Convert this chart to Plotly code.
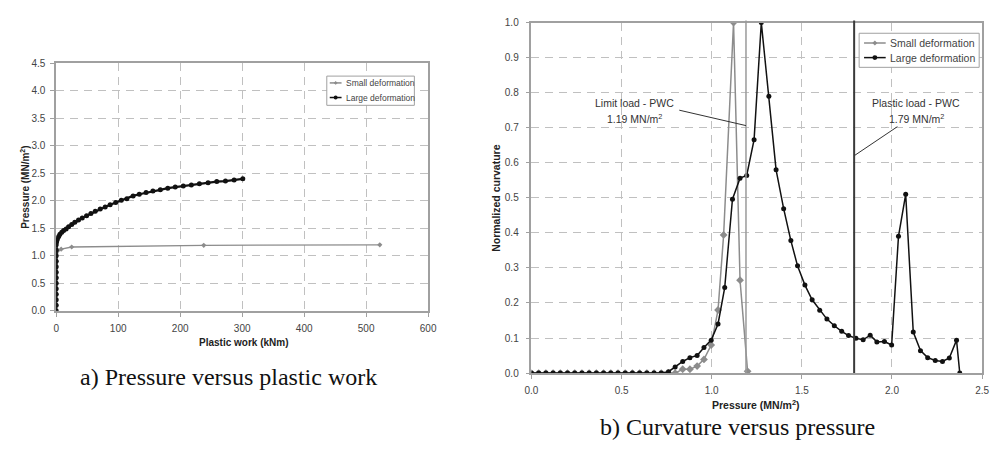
import plotly.graph_objects as go

# ---------------- data: a) pressure vs plastic work ----------------
work_large = [0, 0, 0, 0, 0, 0, 0, 0, 0, 0, 0, 0, 0, 0.5, 1, 2, 4, 6, 9, 12, 16, 20, 25, 30, 36, 42,
              49, 56, 63, 71, 79, 87, 96, 105, 114, 124, 134, 145, 156, 168, 180, 192, 205, 218,
              231, 245, 259, 273, 287, 301]
press_large = [0.0, 0.1, 0.2, 0.3, 0.4, 0.5, 0.6, 0.7, 0.8, 0.9, 1.0, 1.1, 1.2, 1.25, 1.28, 1.31,
               1.35, 1.39, 1.43, 1.46, 1.49, 1.53, 1.57, 1.61, 1.65, 1.69, 1.73, 1.77, 1.81, 1.85,
               1.89, 1.93, 1.97, 2.01, 2.04, 2.09, 2.12, 2.15, 2.18, 2.20, 2.23, 2.25, 2.27, 2.29,
               2.31, 2.33, 2.35, 2.36, 2.38, 2.40]
work_small = [0, 0, 0, 0, 0, 3, 8, 25, 238, 522]
press_small = [0.0, 0.3, 0.6, 0.9, 1.05, 1.10, 1.12, 1.16, 1.19, 1.20]

# ---------------- data: b) curvature vs pressure ----------------
p_large = [0.00, 0.04, 0.08, 0.12, 0.16, 0.20, 0.24, 0.28, 0.32, 0.36, 0.40, 0.44, 0.48, 0.52,
           0.56, 0.60, 0.64, 0.68, 0.72, 0.76, 0.797, 0.839, 0.879, 0.919, 0.957, 0.997, 1.035,
           1.072, 1.115, 1.157, 1.194, 1.235, 1.275, 1.317, 1.357, 1.399, 1.439, 1.476, 1.517,
           1.557, 1.599, 1.639, 1.680, 1.721, 1.759, 1.800, 1.840, 1.879, 1.916, 1.958, 1.998,
           2.036, 2.076, 2.118, 2.158, 2.198, 2.240, 2.280, 2.318, 2.358, 2.376]
c_large = [0, 0, 0, 0, 0, 0, 0, 0, 0, 0, 0, 0, 0, 0, 0, 0, 0, 0, 0, 0.004, 0.017, 0.033, 0.044,
           0.050, 0.073, 0.094, 0.140, 0.244, 0.496, 0.556, 0.564, 0.666, 1.000, 0.790, 0.580,
           0.469, 0.378, 0.306, 0.251, 0.209, 0.179, 0.154, 0.135, 0.119, 0.107, 0.099, 0.095,
           0.108, 0.089, 0.090, 0.080, 0.390, 0.510, 0.117, 0.064, 0.044, 0.036, 0.033, 0.043,
           0.094, 0.000]
p_small = [0.00, 0.04, 0.08, 0.12, 0.16, 0.20, 0.24, 0.28, 0.32, 0.36, 0.40, 0.44, 0.48, 0.52,
           0.56, 0.60, 0.64, 0.68, 0.72, 0.76, 0.797, 0.839, 0.879, 0.919, 0.957, 0.997, 1.035,
           1.066, 1.121, 1.157, 1.199]
c_small = [0, 0, 0, 0, 0, 0, 0, 0, 0, 0, 0, 0, 0, 0, 0, 0, 0, 0, 0, 0, 0.000, 0.011, 0.011,
           0.020, 0.039, 0.080, 0.180, 0.394, 1.000, 0.265, 0.005]

series_names = ["Small deformation", "Large deformation"]
limit_load = 1.19
plastic_load = 1.79

SMALL_COL = "#8c8c8c"
LARGE_COL = "#111111"

W, H = 999, 456
def px(x):
    return x / W
def py(y):
    return 1 - y / H

fig = go.Figure()

fig.add_trace(go.Scatter(x=work_small, y=press_small, mode="lines+markers", name=series_names[0],
                         line=dict(color=SMALL_COL, width=1.3),
                         marker=dict(symbol="diamond", size=4, color=SMALL_COL),
                         xaxis="x", yaxis="y", showlegend=False))
fig.add_trace(go.Scatter(x=work_large, y=press_large, mode="lines+markers", name=series_names[1],
                         line=dict(color=LARGE_COL, width=2.2),
                         marker=dict(symbol="circle", size=5, color=LARGE_COL),
                         xaxis="x", yaxis="y", showlegend=False))
fig.add_trace(go.Scatter(x=p_small, y=c_small, mode="lines+markers", name=series_names[0],
                         line=dict(color=SMALL_COL, width=1.5),
                         marker=dict(symbol="diamond", size=6, color=SMALL_COL),
                         xaxis="x2", yaxis="y2", showlegend=False))
fig.add_trace(go.Scatter(x=p_large, y=c_large, mode="lines+markers", name=series_names[1],
                         line=dict(color=LARGE_COL, width=1.5),
                         marker=dict(symbol="circle", size=5, color=LARGE_COL),
                         xaxis="x2", yaxis="y2", showlegend=False))

tickfont = dict(family="Liberation Sans, Arial", size=10, color="#444")
axcommon = dict(showline=True, linecolor="#a0a0a0", linewidth=1.5, mirror=True,
                showgrid=True, gridcolor="#c0c0c0", griddash="8px,6px", gridwidth=1,
                zeroline=False, ticks="outside", ticklen=4, tickcolor="#a0a0a0",
                tickfont=tickfont)

fig.update_layout(
    width=W, height=H,
    margin=dict(l=0, r=0, t=0, b=0),
    paper_bgcolor="white", plot_bgcolor="white",
    showlegend=False,
    xaxis=dict(domain=[px(50), px(428)], range=[0, 600], dtick=100, anchor="y",
               ticklabelstandoff=3, **axcommon),
    yaxis=dict(domain=[py(313), py(59)], range=[0, 4.5], dtick=0.5, tickformat=".1f",
               anchor="x", ticklabelstandoff=3, **axcommon),
    xaxis2=dict(domain=[px(533), px(991)], range=[0, 2.5], dtick=0.5, tickformat=".1f",
                anchor="y2", ticklabelstandoff=3, **axcommon),
    yaxis2=dict(domain=[py(377), py(17)], range=[0, 1.0], dtick=0.1, tickformat=".1f",
                anchor="x2", ticklabelstandoff=5, **axcommon),
)

# vertical load lines and leader lines
fig.add_shape(type="line", xref="x2", yref="paper", x0=limit_load, x1=limit_load,
              y0=py(377), y1=py(15), line=dict(color="#9a9a9a", width=1.5))
fig.add_shape(type="line", xref="x2", yref="paper", x0=plastic_load, x1=plastic_load,
              y0=py(377), y1=py(15), line=dict(color="#3a3a3a", width=2))
fig.add_shape(type="line", xref="x2", yref="y2", x0=0.82, y0=0.75, x1=limit_load, y1=0.706,
              line=dict(color="#333", width=1))
fig.add_shape(type="line", xref="x2", yref="y2", x0=2.03, y0=0.703, x1=plastic_load, y1=0.62,
              line=dict(color="#333", width=1))

# ---- manual legends (pixel-placed) ----
def legend_box(x0, y0, x1, y1, rows, stub, fsize, msize):
    fig.add_shape(type="rect", xref="paper", yref="paper", x0=px(x0), x1=px(x1),
                  y0=py(y1), y1=py(y0), line=dict(color="#a0a0a0", width=1),
                  fillcolor="white", layer="above")
    for (name, col, sym, yy) in rows:
        fig.add_shape(type="line", xref="paper", yref="paper", x0=px(stub[0]), x1=px(stub[1]),
                      y0=py(yy), y1=py(yy), line=dict(color=col, width=1.5), layer="above")
        cx = (stub[0] + stub[1]) / 2
        r = msize / 2
        if sym == "circle":
            fig.add_shape(type="circle", xref="paper", yref="paper", x0=px(cx - r), x1=px(cx + r),
                          y0=py(yy + r), y1=py(yy - r), fillcolor=col, line=dict(color=col, width=0),
                          layer="above")
        else:
            path = "M {} {} L {} {} L {} {} L {} {} Z".format(
                px(cx - r), py(yy), px(cx), py(yy - r), px(cx + r), py(yy), px(cx), py(yy + r))
            fig.add_shape(type="path", path=path, xref="paper", yref="paper", fillcolor=col,
                          line=dict(color=col, width=0), layer="above")
        fig.add_annotation(xref="paper", yref="paper", x=px(stub[1] + 2), y=py(yy), text=name,
                           showarrow=False, xanchor="left", yanchor="middle",
                           font=dict(family="Liberation Sans, Arial", size=fsize, color="#444"))

legend_box(325, 72, 414, 102,
           [(series_names[0], SMALL_COL, "diamond", 79), (series_names[1], LARGE_COL, "circle", 94)],
           (328, 340), 8.5, 4)
legend_box(866, 28, 988, 63,
           [(series_names[0], SMALL_COL, "diamond", 38), (series_names[1], LARGE_COL, "circle", 53)],
           (871, 893), 10.5, 5)

ann_font = dict(family="Liberation Sans, Arial", size=10.5, color="#333")
title_font_l = dict(family="Liberation Sans, Arial", size=10, color="#222")
title_font_r = dict(family="Liberation Sans, Arial", size=10.5, color="#222")
cap_font = dict(family="Liberation Serif, Times New Roman", size=24, color="#111")

annotations = [
    dict(text="Limit load - PWC", x=px(638), y=py(100), font=ann_font),
    dict(text="1.19 MN/m<sup>2</sup>", x=px(638), y=py(116), font=ann_font),
    dict(text="Plastic load - PWC", x=px(924), y=py(100), font=ann_font),
    dict(text="1.79 MN/m<sup>2</sup>", x=px(924), y=py(116), font=ann_font),
    dict(text="<b>Plastic work (kNm)</b>", x=px(240), y=py(346), font=title_font_l),
    dict(text="<b>Pressure (MN/m<sup>2</sup>)</b>", x=px(18), y=py(186), font=title_font_l, textangle=-90),
    dict(text="<b>Pressure (MN/m<sup>2</sup>)</b>", x=px(761), y=py(409), font=title_font_r),
    dict(text="<b>Normalized curvature</b>", x=px(497), y=py(197), font=title_font_r, textangle=-90),
    dict(text="a) Pressure versus plastic work", x=px(225), y=py(381), font=cap_font),
    dict(text="b) Curvature versus pressure", x=px(742), y=py(432), font=cap_font),
]
for a in annotations:
    fig.add_annotation(xref="paper", yref="paper", showarrow=False, xanchor="center",
                       yanchor="middle", **a)

fig.write_html("out.html")
